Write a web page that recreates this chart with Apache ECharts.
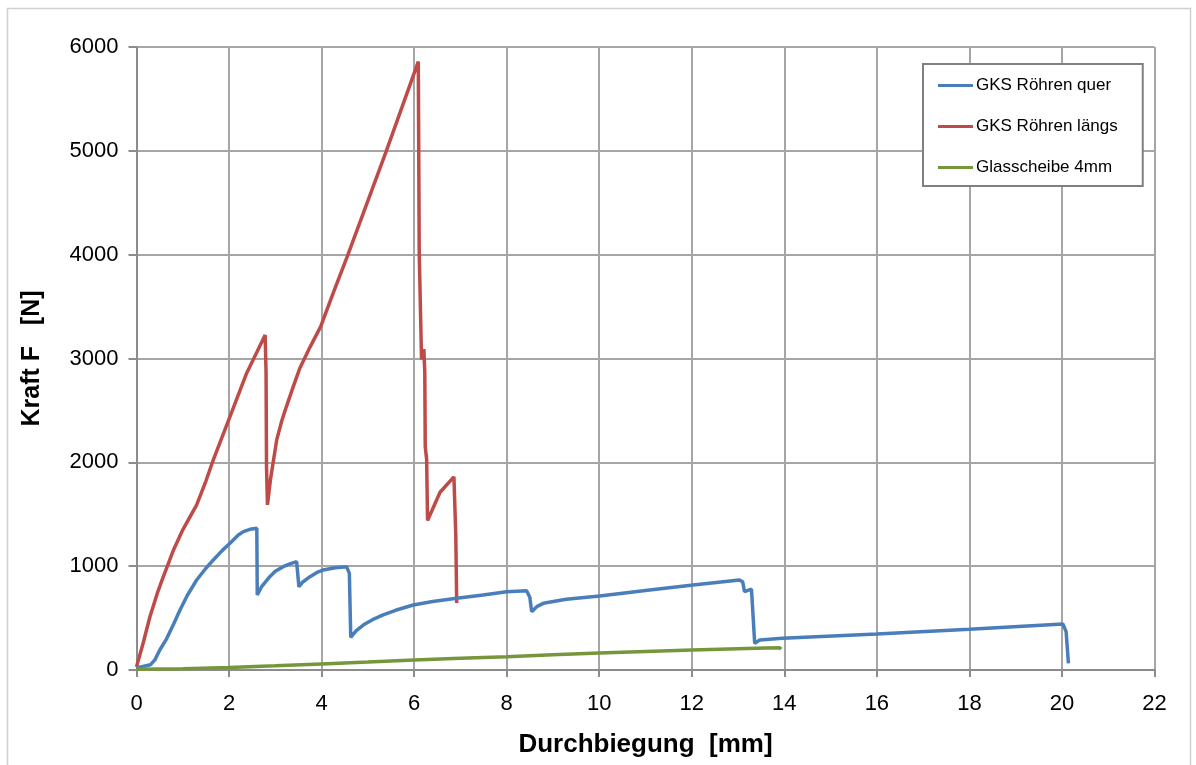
<!DOCTYPE html>
<html>
<head>
<meta charset="utf-8">
<title>Kraft / Durchbiegung</title>
<script src="https://cdn.jsdelivr.net/npm/echarts@6/dist/echarts.min.js"></script>
<style>
    html, body { margin: 0; padding: 0; background: #fff; }
    #chart { width: 1196px; height: 765px; }
</style>
</head>
<body>
<div id="chart"></div>
<script>
    // Durchbiegung [mm] / Kraft [N]
    var querX = [0, 0.3, 0.4, 0.5, 0.65, 0.8, 0.94, 1.1, 1.3, 1.5, 1.66, 1.85, 2.02, 2.2, 2.31, 2.45, 2.6,
        2.61, 2.7, 2.88, 3.0, 3.17, 3.3, 3.46, 3.51, 3.6, 3.75, 3.9, 4.03, 4.3, 4.54, 4.6, 4.63,
        4.75, 4.9, 5.1, 5.33, 5.6, 5.98, 6.4, 6.92, 7.49, 8.0, 8.43, 8.5, 8.54, 8.65, 8.79, 9.29,
        10.01, 11.09, 12.03, 13.03, 13.1, 13.14, 13.29, 13.36, 13.47, 13.96, 16.0, 18.0, 20.02, 20.09, 20.14];
    var querY = [20, 50, 100, 190, 300, 440, 578, 720, 867, 980, 1060, 1150, 1220, 1300, 1333, 1355, 1365,
        722, 800, 899, 950, 995, 1020, 1043, 802, 850, 899, 940, 963, 985, 995, 930, 315,
        380, 433, 485, 530, 575, 626, 660, 690, 722, 754, 764, 700, 562, 610, 642, 681,
        713, 771, 819, 867, 850, 754, 780, 257, 289, 305, 347, 392, 443, 369, 64];

    var laengsX = [0, 0.15, 0.29, 0.45, 0.58, 0.7, 0.8, 1.0, 1.15, 1.3, 1.5, 1.66, 2.02, 2.38, 2.6, 2.78,
        2.8, 2.81, 2.83, 2.9, 3.03, 3.14, 3.24, 3.38, 3.53, 3.75, 3.98, 4.25, 4.57, 5.4, 6.09,
        6.11, 6.16, 6.21, 6.23, 6.24, 6.27, 6.29, 6.56, 6.86, 6.9, 6.92];
    var laengsY = [30, 270, 513, 740, 900, 1040, 1156, 1350, 1470, 1590, 1820, 2023, 2440, 2858, 3060, 3227,
        2860, 1958, 1590, 1850, 2216, 2400, 2537, 2720, 2907, 3110, 3307, 3630, 4000, 5000, 5860,
        4017, 2990, 3090, 2870, 2150, 2030, 1440, 1712, 1860, 1300, 645];

    var glasX = [0, 1, 2, 3, 4, 5, 6, 7, 8, 9, 10, 11, 12, 13, 13.6, 13.9, 13.93];
    var glasY = [8, 12, 24, 40, 58, 76, 96, 112, 128, 146, 163, 178, 193, 205, 212, 215, 200];

    var names = ['GKS Röhren quer', 'GKS Röhren längs', 'Glasscheibe 4mm'];
    var colors = ['#4a7ebb', '#be4b48', '#77963b'];

    function pairs(xs, ys) {
        return xs.map(function (x, i) {
            return [x, ys[i]];
        });
    }

    var font = '"Liberation Sans", Arial, sans-serif';

    var myChart = echarts.init(document.getElementById('chart'));
    var option = {
        animation: false,
        backgroundColor: '#fff',
        textStyle: { fontFamily: font },
        graphic: [
            {
                // Rahmen um das ganze Diagramm
                type: 'rect',
                shape: { x: 7.5, y: 8.5, width: 1183, height: 800 },
                style: { fill: 'none', stroke: '#d0d0d0', lineWidth: 1.5 },
                silent: true
            }
        ],
        grid: {
            left: 136.5,
            right: 41.5,
            top: 47,
            bottom: 95
        },
        legend: {
            orient: 'vertical',
            left: 923,
            top: 64,
            padding: [13, 25, 10, 15],
            itemGap: 24,
            itemWidth: 35,
            itemHeight: 3,
            icon: 'rect',
            backgroundColor: '#fff',
            borderColor: '#808080',
            borderWidth: 2,
            borderRadius: 0,
            textStyle: {
                fontFamily: font,
                fontSize: 17,
                lineHeight: 17,
                color: '#000',
                padding: [0, 0, 0, -2]
            },
            data: names
        },
        xAxis: {
            type: 'value',
            min: 0,
            max: 22,
            interval: 2,
            name: 'Durchbiegung  [mm]',
            nameLocation: 'middle',
            nameGap: 62,
            nameTextStyle: { fontFamily: font, fontSize: 26, fontWeight: 'bold', color: '#000' },
            axisLine: { show: true, lineStyle: { color: '#8c8c8c', width: 2 } },
            axisTick: { show: true, length: 7, lineStyle: { color: '#8c8c8c', width: 2 } },
            axisLabel: { fontFamily: font, fontSize: 22, color: '#000', margin: 23 },
            splitLine: { show: true, lineStyle: { color: '#a6a6a6', width: 2 } }
        },
        yAxis: {
            type: 'value',
            min: 0,
            max: 6000,
            interval: 1000,
            name: 'Kraft F   [N]',
            nameLocation: 'middle',
            nameGap: 92,
            nameRotate: 90,
            nameTextStyle: { fontFamily: font, fontSize: 25, fontWeight: 'bold', color: '#000' },
            axisLine: { show: true, lineStyle: { color: '#8c8c8c', width: 2 } },
            axisTick: { show: true, length: 8, lineStyle: { color: '#8c8c8c', width: 2 } },
            axisLabel: {
                fontFamily: font,
                fontSize: 22,
                color: '#000',
                margin: 18,
                formatter: function (v) {
                    return String(v);
                }
            },
            splitLine: { show: true, lineStyle: { color: '#a6a6a6', width: 2 } }
        },
        series: [
            {
                name: names[0],
                type: 'line',
                showSymbol: false,
                data: pairs(querX, querY),
                lineStyle: { color: colors[0], width: 3.5 },
                itemStyle: { color: colors[0] },
                z: 3
            },
            {
                name: names[1],
                type: 'line',
                showSymbol: false,
                data: pairs(laengsX, laengsY),
                lineStyle: { color: colors[1], width: 3.5 },
                itemStyle: { color: colors[1] },
                z: 2
            },
            {
                name: names[2],
                type: 'line',
                showSymbol: false,
                data: pairs(glasX, glasY),
                lineStyle: { color: colors[2], width: 3.5 },
                itemStyle: { color: colors[2] },
                z: 4
            }
        ]
    };
    myChart.setOption(option, true);
</script>
</body>
</html>
